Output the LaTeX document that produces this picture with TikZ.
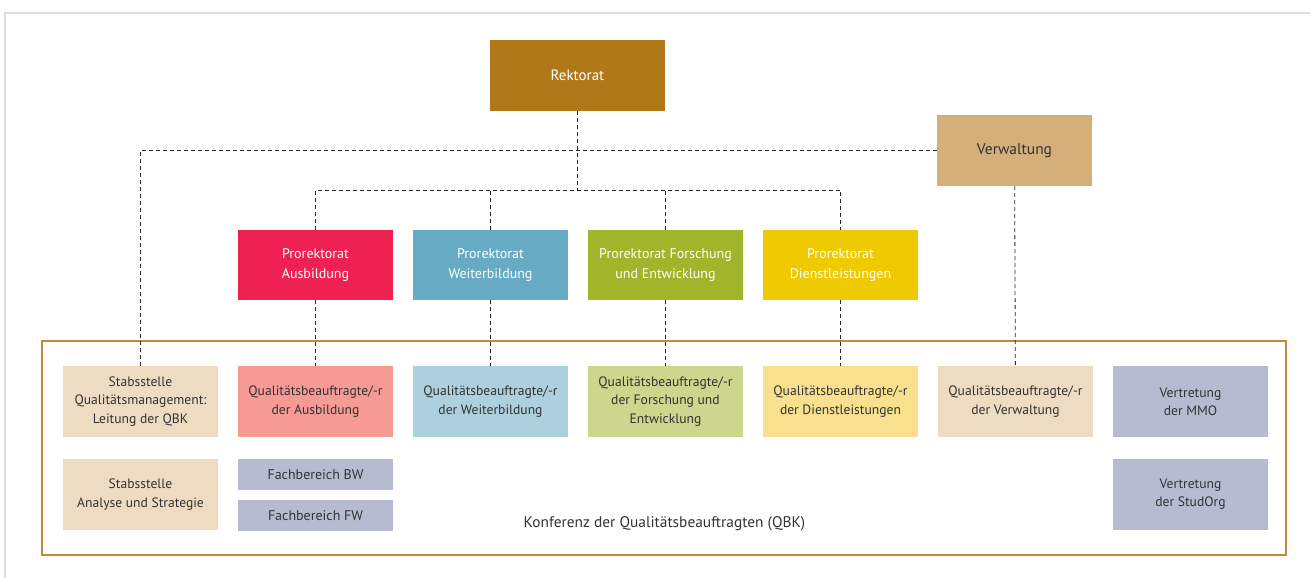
\documentclass[tikz,border=0pt]{standalone}
\usepackage{fontspec}
\setmainfont{PT Sans}
\usetikzlibrary{positioning}
\newdimen\boxGap
\boxGap=20pt

\definecolor{rektoratBrown}{HTML}{B07818}
\definecolor{verwaltungTan}{HTML}{D4AF7A}
\definecolor{ausbildungRed}{HTML}{EE2152}
\definecolor{weiterbildungBlue}{HTML}{66ABC3}
\definecolor{forschungGreen}{HTML}{A1B52A}
\definecolor{dienstYellow}{HTML}{F0CA00}
\definecolor{ausbildungLight}{HTML}{F59A95}
\definecolor{weiterbildungLight}{HTML}{ADD0DF}
\definecolor{forschungLight}{HTML}{CCD68C}
\definecolor{dienstLight}{HTML}{F8E08E}
\definecolor{stabLight}{HTML}{EEDCC2}
\definecolor{vertretungGrey}{HTML}{B6BBD2}
\definecolor{qbkFrame}{HTML}{BC8A3A}
\definecolor{pageFrame}{HTML}{DEDEDE}
\definecolor{textDark}{HTML}{333333}

\begin{document}
\begin{tikzpicture}[
    x=1pt, y=-1pt,
    box/.style={%
      rectangle,
      inner sep=0pt,
      outer sep=0pt,
      minimum width=155pt,
      minimum height=71pt,
      align=center,
      text=textDark,
      font=\fontsize{13.6}{18.3}\selectfont,
    },
    headbox/.style={%
      box,
      text=white,
      font=\fontsize{14}{20.5}\selectfont,
    },
    smallbox/.style={%
      box,
      minimum height=31pt,
      fill=vertretungGrey,
      font=\fontsize{14}{18.3}\selectfont,
    },
    link/.style={%
      draw=black!85,
      line width=0.8pt,
      dash pattern=on 4pt off 3pt,
    },
  ]

    \useasboundingbox (0,0) rectangle (1310,578);
    \draw [pageFrame, line width=1.5pt] (5,578) -- (5,13) -- (1310,13);

    % conference frame
    \node [draw=qbkFrame, line width=1.4pt, minimum width=1244pt,
      minimum height=214pt, inner sep=0pt] (qbk) at (664,448) {};
    \node [box, minimum height=0pt, font=\fontsize{15.4}{18}\selectfont] (qbklabel)
      at (664.5,524) {Konferenz der Qualitätsbeauftragten (QBK)};

    % top level
    \node [headbox, fill=rektoratBrown, minimum width=175pt,
      font=\fontsize{15}{20}\selectfont] (rek) at (577.5,75.5) {Rektorat};
    \node [headbox, fill=verwaltungTan, text=textDark,
      font=\fontsize{15.5}{20}\selectfont] (verw) at (1014.5,150.5) {Verwaltung};

    % prorectorates
    \node [headbox, fill=ausbildungRed, minimum height=70pt] (pa) at (315.5,265)
      {Prorektorat\\Ausbildung};
    \node [headbox, fill=weiterbildungBlue, minimum height=70pt, right=\boxGap of pa] (pw)
      {Prorektorat\\Weiterbildung};
    \node [headbox, fill=forschungGreen, minimum height=70pt, right=\boxGap of pw] (pf)
      {Prorektorat Forschung\\und Entwicklung};
    \node [headbox, fill=dienstYellow, minimum height=70pt, right=\boxGap of pf] (pd)
      {Prorektorat\\Dienstleistungen};

    % quality officers
    \node [box, fill=stabLight] (stabqm) at (140.5,401.5)
      {Stabsstelle\\Qualitätsmanagement:\\Leitung der QBK};
    \node [box, fill=ausbildungLight, right=\boxGap of stabqm] (qa)
      {Qualitätsbeauftragte/-r\\der Ausbildung};
    \node [box, fill=weiterbildungLight, right=\boxGap of qa] (qw)
      {Qualitätsbeauftragte/-r\\der Weiterbildung};
    \node [box, fill=forschungLight, right=\boxGap of qw] (qf)
      {Qualitätsbeauftragte/-r\\der Forschung und\\Entwicklung};
    \node [box, fill=dienstLight, right=\boxGap of qf] (qd)
      {Qualitätsbeauftragte/-r\\der Dienstleistungen};
    \node [box, fill=stabLight, right=\boxGap of qd] (qv)
      {Qualitätsbeauftragte/-r\\der Verwaltung};
    \node [box, fill=vertretungGrey, right=\boxGap of qv] (mmo)
      {Vertretung\\der MMO};

    % second row
    \node [box, fill=stabLight, below=22pt of stabqm] (stabas)
      {Stabsstelle\\Analyse und Strategie};
    \node [smallbox, below=22pt of qa] (fbw) {Fachbereich BW};
    \node [smallbox, below=10pt of fbw] (ffw) {Fachbereich FW};
    \node [box, fill=vertretungGrey, below=22pt of mmo] (stud)
      {Vertretung\\der StudOrg};

    % dashed links
    \coordinate (bus) at (577.5,190);
    \draw [link] (rek) -- (bus);
    \draw [link] (verw.west) -| (stabqm.north);
    \draw [link] (pa.north) -- (pa.north |- bus) -- (pd.north |- bus) -- (pd.north);
    \draw [link] (pw.north) -- (pw.north |- bus);
    \draw [link] (pf.north) -- (pf.north |- bus);
    \draw [link] (pa) -- (qa);
    \draw [link] (pw) -- (qw);
    \draw [link] (pf) -- (qf);
    \draw [link] (pd) -- (qd);
    \draw [link] (verw) -- (qv);

\end{tikzpicture}
\end{document}
